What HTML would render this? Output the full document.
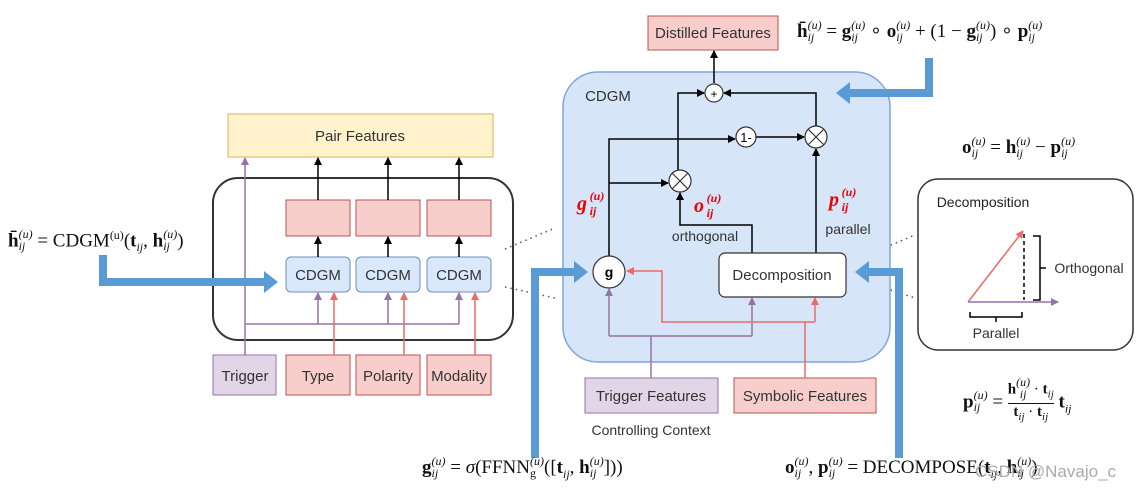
<!DOCTYPE html>
<html><head><meta charset="utf-8"><style>
body{margin:0;width:1141px;height:497px;background:#fff;position:relative;overflow:hidden;font-family:"Liberation Sans",sans-serif}
svg{position:absolute;left:0;top:0}
.f{position:absolute;font-family:"Liberation Serif",serif;font-size:19px;white-space:nowrap;color:#111}
.ss{display:inline-block;vertical-align:middle;line-height:12px;font-size:12px;font-style:italic;margin-top:-4px}
.ss i{display:block}
b{font-weight:bold}
</style></head><body>
<svg width="1141" height="497" viewBox="0 0 1141 497">
<defs>
<marker id="ak" markerWidth="8" markerHeight="8" refX="7" refY="4" orient="auto" markerUnits="userSpaceOnUse"><path d="M0,0L8,4L0,8z" fill="#000"/></marker>
<marker id="ap" markerWidth="8" markerHeight="8" refX="7" refY="4" orient="auto" markerUnits="userSpaceOnUse"><path d="M0,0L8,4L0,8z" fill="#9673a6"/></marker>
<marker id="ar" markerWidth="8" markerHeight="8" refX="7" refY="4" orient="auto" markerUnits="userSpaceOnUse"><path d="M0,0L8,4L0,8z" fill="#ea6b66"/></marker>
<marker id="ab" markerWidth="14" markerHeight="22" refX="0" refY="11" orient="auto" markerUnits="userSpaceOnUse"><path d="M0,0L14,11L0,22z" fill="#5b9bd5"/></marker>
</defs>
<g font-size="15" fill="#333" text-anchor="middle">
<rect x="228" y="114" width="265" height="43" fill="#fff2cc" stroke="#d6b656"/>
<text x="360" y="141">Pair Features</text>
<rect x="213" y="178" width="300" height="162" rx="25" fill="none" stroke="#333" stroke-width="2"/>
<g fill="#f8cecc" stroke="#b85450">
<rect x="286" y="200" width="64" height="36"/><rect x="356" y="200" width="64" height="36"/><rect x="427" y="200" width="64" height="36"/>
<rect x="286" y="355" width="64" height="40"/><rect x="356" y="355" width="64" height="40"/><rect x="427" y="355" width="64" height="40"/>
</g>
<rect x="213" y="355" width="63" height="40" fill="#e1d5e7" stroke="#9673a6"/>
<g fill="#dae8fc" stroke="#6c8ebf"><rect x="286" y="257" width="64" height="35" rx="5"/><rect x="356" y="257" width="64" height="35" rx="5"/><rect x="427" y="257" width="64" height="35" rx="5"/></g>
<text x="318" y="280">CDGM</text><text x="388" y="280">CDGM</text><text x="459" y="280">CDGM</text>
<text x="245" y="381">Trigger</text><text x="318" y="381">Type</text><text x="388" y="381">Polarity</text><text x="459" y="381">Modality</text>
<g stroke="#000" stroke-width="1.5" marker-end="url(#ak)">
<line x1="318" y1="200" x2="318" y2="158"/><line x1="388" y1="200" x2="388" y2="158"/><line x1="459" y1="200" x2="459" y2="158"/>
<line x1="318" y1="257" x2="318" y2="237"/><line x1="388" y1="257" x2="388" y2="237"/><line x1="459" y1="257" x2="459" y2="237"/>
</g>
<g stroke="#9673a6" stroke-width="1.5" fill="none">
<line x1="245" y1="355" x2="245" y2="158" marker-end="url(#ap)"/>
<polyline points="245,324 459,324"/>
<line x1="318" y1="324" x2="318" y2="293" marker-end="url(#ap)"/><line x1="388" y1="324" x2="388" y2="293" marker-end="url(#ap)"/><line x1="459" y1="324" x2="459" y2="293" marker-end="url(#ap)"/>
</g>
<g stroke="#ea6b66" stroke-width="1.5">
<line x1="334" y1="355" x2="334" y2="293" marker-end="url(#ar)"/><line x1="404" y1="355" x2="404" y2="293" marker-end="url(#ar)"/><line x1="475" y1="355" x2="475" y2="293" marker-end="url(#ar)"/>
</g>
<g stroke="#555" stroke-dasharray="1.5,4" stroke-width="1.5"><line x1="505" y1="249" x2="555" y2="228"/><line x1="505" y1="287" x2="555" y2="298"/>
<line x1="850" y1="262" x2="915" y2="235"/><line x1="875" y1="285" x2="915" y2="298"/></g>
<rect x="563" y="72" width="327" height="290" rx="35" fill="#d6e5f8" stroke="#7ea6d8" stroke-width="1.5"/>
<text x="608" y="101" text-anchor="middle">CDGM</text>
<rect x="648" y="16" width="130" height="34" fill="#f8cecc" stroke="#b85450"/>
<text x="713" y="38">Distilled Features</text>
<g stroke="#000" stroke-width="1.5" fill="none">
<line x1="714" y1="83" x2="714" y2="51" marker-end="url(#ak)"/>
<polyline points="609,256 609,139 735,139" marker-end="url(#ak)"/>
<line x1="609" y1="183" x2="668" y2="183" marker-end="url(#ak)"/>
<polyline points="678,170 678,93 704,93" marker-end="url(#ak)"/>
<line x1="756" y1="137" x2="804" y2="137" marker-end="url(#ak)"/>
<polyline points="816,126 816,93 724,93" marker-end="url(#ak)"/>
<polyline points="752,253 752,225 680,225 680,193" marker-end="url(#ak)"/>
<line x1="816" y1="253" x2="816" y2="149" marker-end="url(#ak)"/>
</g>
<g fill="#fff" stroke="#333" stroke-width="1.2">
<circle cx="714" cy="93" r="9"/><circle cx="746" cy="137" r="10"/><circle cx="816" cy="137" r="11"/><circle cx="680" cy="181" r="11"/><circle cx="609" cy="272" r="16"/>
<rect x="719" y="253" width="127" height="44" rx="6"/>
</g>
<g stroke="#333" stroke-width="1.2"><path d="M808,129L824,145M824,129L808,145M672,173L688,189M688,173L672,189"/></g>
<text x="714" y="98" font-size="12" fill="#000">+</text>
<text x="746" y="142" font-size="13" fill="#000">1-</text>
<text x="609" y="277" font-size="14" font-weight="bold" fill="#000">g</text>
<text x="782" y="280">Decomposition</text>
<text x="705" y="241" font-size="14">orthogonal</text>
<text x="848" y="234" font-size="14">parallel</text>
<g fill="#e00" font-family="Liberation Serif" font-weight="bold" font-style="italic">
<text x="582" y="210" font-size="20">g</text><text x="593" y="215" font-size="12">ij</text><text x="597" y="200" font-size="12">(u)</text>
<text x="699" y="212" font-size="20">o</text><text x="710" y="217" font-size="12">ij</text><text x="714" y="202" font-size="12">(u)</text>
<text x="834" y="206" font-size="20">p</text><text x="845" y="211" font-size="12">ij</text><text x="849" y="196" font-size="12">(u)</text>
</g>
<rect x="585" y="378" width="133" height="35" fill="#e1d5e7" stroke="#9673a6"/>
<text x="651" y="401">Trigger Features</text>
<rect x="734" y="378" width="142" height="35" fill="#f8cecc" stroke="#b85450"/>
<text x="805" y="401">Symbolic Features</text>
<text x="651" y="435" font-size="14">Controlling Context</text>
<g stroke="#9673a6" stroke-width="1.5" fill="none">
<polyline points="651,378 651,336"/><polyline points="609,336 752,336"/>
<line x1="609" y1="336" x2="609" y2="289" marker-end="url(#ap)"/><line x1="752" y1="336" x2="752" y2="298" marker-end="url(#ap)"/>
</g>
<g stroke="#ea6b66" stroke-width="1.5" fill="none">
<polyline points="805,378 805,322"/><polyline points="815,322 662,322 662,271 627,271" marker-end="url(#ar)"/>
<line x1="815" y1="322" x2="815" y2="298" marker-end="url(#ar)"/>
</g>
<rect x="918" y="179" width="215" height="171" rx="20" fill="#fff" stroke="#333" stroke-width="1.5"/>
<text x="983" y="207" font-size="14" fill="#222">Decomposition</text>
<line x1="968" y1="302" x2="1023" y2="231" stroke="#ea6b66" stroke-width="1.5" marker-end="url(#ar)"/>
<line x1="968" y1="302" x2="1058" y2="302" stroke="#9673a6" stroke-width="1.5" marker-end="url(#ap)"/>
<line x1="1024" y1="234" x2="1024" y2="300" stroke="#000" stroke-width="1.5" stroke-dasharray="4,3"/>
<path d="M1033,236H1040V300H1033M1040,268H1046M970,312V317H1022V312M996,317V322" fill="none" stroke="#000" stroke-width="1.5"/>
<text x="1089" y="273" font-size="14">Orthogonal</text>
<text x="996" y="338" font-size="14">Parallel</text>
<g stroke="#5b9bd5" stroke-width="8" fill="none" marker-end="url(#ab)">
<polyline points="103,255 103,282 264,282"/>
<polyline points="535,458 535,272 574,272"/>
<polyline points="899,458 899,272 869,272"/>
<polyline points="929,58 929,93 850,93"/>
</g>
</g>
</svg>
<div class="f" style="left:8px;top:228px"><b>h̄</b><span class="ss"><i>(u)</i><i>ij</i></span> = CDGM<sup style="font-size:12px">(u)</sup>(<b>t</b><sub style="font-size:12px;font-style:italic">ij</sub>, <b>h</b><span class="ss"><i>(u)</i><i>ij</i></span>)</div>
<div class="f" style="left:797px;top:20px"><b>h̄</b><span class="ss"><i>(u)</i><i>ij</i></span> = <b>g</b><span class="ss"><i>(u)</i><i>ij</i></span> ∘ <b>o</b><span class="ss"><i>(u)</i><i>ij</i></span> + (1 − <b>g</b><span class="ss"><i>(u)</i><i>ij</i></span>) ∘ <b>p</b><span class="ss"><i>(u)</i><i>ij</i></span></div>
<div class="f" style="left:962px;top:137px"><b>o</b><span class="ss"><i>(u)</i><i>ij</i></span> = <b>h</b><span class="ss"><i>(u)</i><i>ij</i></span> − <b>p</b><span class="ss"><i>(u)</i><i>ij</i></span></div>
<div class="f" style="left:963px;top:380px"><b>p</b><span class="ss"><i>(u)</i><i>ij</i></span> = <span style="display:inline-block;vertical-align:middle;text-align:center;font-size:15px;line-height:17px"><span style="display:block;border-bottom:1px solid #111"><b>h</b><span class="ss"><i>(u)</i><i>ij</i></span> · <b>t</b><sub style="font-size:11px"><i>ij</i></sub></span><span style="display:block"><b>t</b><sub style="font-size:11px"><i>ij</i></sub> · <b>t</b><sub style="font-size:11px"><i>ij</i></sub></span></span> <b>t</b><sub style="font-size:12px"><i>ij</i></sub></div>
<div class="f" style="left:422px;top:457px"><b>g</b><span class="ss"><i>(u)</i><i>ij</i></span> = <i>σ</i>(FFNN<span class="ss"><i>(u)</i><i style="font-style:normal">g</i></span>([<b>t</b><sub style="font-size:12px"><i>ij</i></sub>, <b>h</b><span class="ss"><i>(u)</i><i>ij</i></span>]))</div>
<div class="f" style="left:785px;top:457px"><b>o</b><span class="ss"><i>(u)</i><i>ij</i></span>, <b>p</b><span class="ss"><i>(u)</i><i>ij</i></span> = DECOMPOSE(<b>t</b><sub style="font-size:12px"><i>ij</i></sub>, <b>h</b><span class="ss"><i>(u)</i><i>ij</i></span>)</div>
<div style="position:absolute;left:975px;top:462px;font-size:17px;color:#aaa">CSDN @Navajo_c</div>
</body></html>
